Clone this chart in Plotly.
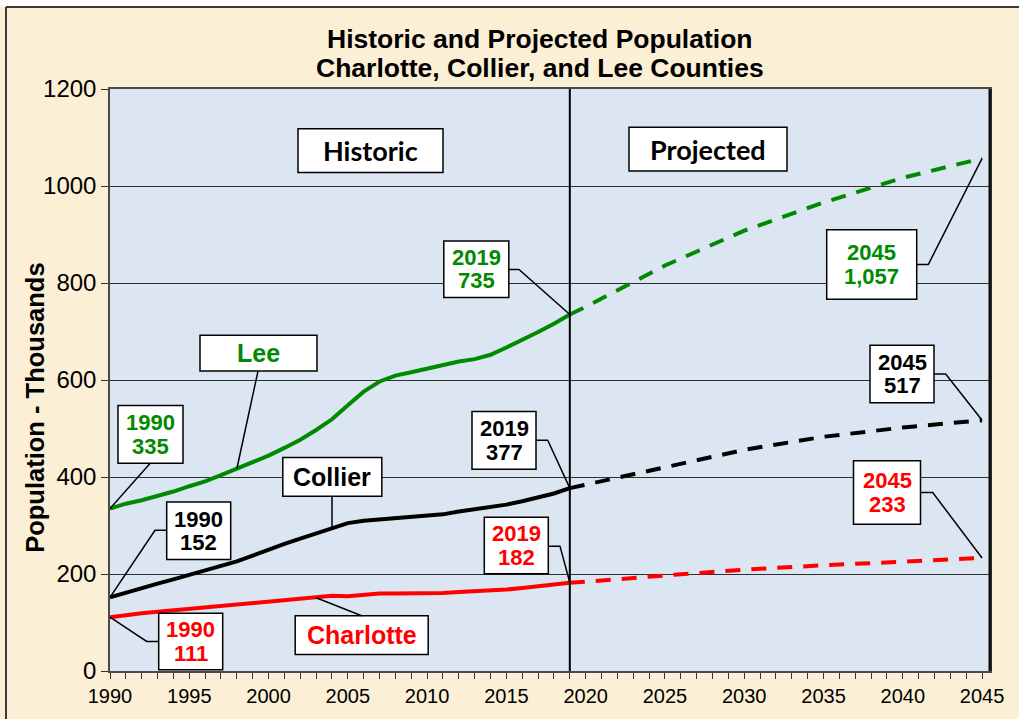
import plotly.graph_objects as go

# ---------------- data ----------------
hist_years = list(range(1990, 2020))
lee_hist = [335, 345, 352, 360, 370, 381, 391, 404, 417, 430,
            444, 460, 477, 497, 519, 548, 576, 597, 609, 616,
            624, 630, 638, 643, 652, 667, 682, 699, 716, 735]
collier_hist = [152, 162, 171, 180, 189, 198, 207, 216, 226, 238,
                251, 262, 273, 284, 295, 305, 310, 313, 315, 318,
                321, 323, 329, 333, 337, 343, 350, 357, 366, 377]
charlotte_hist = [111, 116, 119, 122, 125, 128, 130, 133, 136, 139,
                  142, 145, 148, 151, 155, 154, 157, 160, 160, 160,
                  160, 161, 163, 164, 165, 168, 171, 174, 178, 182]

proj_years = [2019, 2020, 2025, 2030, 2035, 2040, 2045]
lee_proj = [735, 751, 836, 908, 966, 1017, 1057]
collier_proj = [377, 384, 421, 456, 483, 502, 517]
charlotte_proj = [182, 184, 197, 209, 218, 226, 233]

title_lines = ["Historic and Projected Population", "Charlotte, Collier, and Lee Counties"]
y_title = "Population - Thousands"
period_labels = ["Historic", "Projected"]
county_names = ["Lee", "Collier", "Charlotte"]

GREEN = "#008A00"
BLACK = "#000000"
RED = "#FF0000"
ARIAL = "Liberation Sans, Arial, sans-serif"

# ---------------- layout geometry ----------------
W, H = 1019, 719
L, R, T, B = 110, 29, 89, 44
PW, PH = W - L - R, H - T - B
X0, X1 = 1990, 2045.5
Y0, Y1 = 0, 1200
BOT = H - B


def dx(px):
    return X0 + (px - L) / PW * (X1 - X0)


def dy(py):
    return Y0 + (BOT - py) / PH * (Y1 - Y0)


def px_paper(px):
    return (px - L) / PW


def py_paper(py):
    return (BOT - py) / PH


fig = go.Figure()

series = [
    (lee_hist, lee_proj, GREEN),
    (collier_hist, collier_proj, BLACK),
    (charlotte_hist, charlotte_proj, RED),
]
for hist, proj, col in series:
    fig.add_trace(go.Scatter(x=hist_years, y=hist, mode="lines",
                             line=dict(color=col, width=4), showlegend=False,
                             hoverinfo="skip"))
    fig.add_trace(go.Scatter(x=proj_years, y=proj, mode="lines",
                             line=dict(color=col, width=4, dash="15px,11px"),
                             showlegend=False, hoverinfo="skip"))

shapes = []
annotations = []

# background frame pieces (outside plot)
shapes.append(dict(type="rect", xref="paper", yref="paper",
                   x0=px_paper(-5), x1=px_paper(W + 5), y0=py_paper(6), y1=py_paper(-5),
                   fillcolor="white", line=dict(width=0), layer="above"))
shapes.append(dict(type="line", xref="paper", yref="paper",
                   x0=px_paper(6), x1=px_paper(W + 5), y0=py_paper(6.5), y1=py_paper(6.5),
                   line=dict(color="#3a3a3a", width=2)))
shapes.append(dict(type="line", xref="paper", yref="paper",
                   x0=px_paper(6), x1=px_paper(6), y0=py_paper(6.5), y1=py_paper(H + 5),
                   line=dict(color="#3a3a3a", width=2)))

# 2019 divider line
shapes.append(dict(type="line", xref="x", yref="y", x0=2019, x1=2019, y0=Y0, y1=Y1,
                   line=dict(color="black", width=2)))
# right border emphasis
shapes.append(dict(type="line", xref="paper", yref="paper", x0=1, x1=1, y0=0, y1=1,
                   line=dict(color="#111111", width=3)))


def txt(cx, cy, text, color, size, family=ARIAL):
    annotations.append(dict(
        x=dx(cx), y=dy(cy), xref="x", yref="y", showarrow=False,
        xanchor="center", yanchor="middle", text="<b>%s</b>" % text,
        font=dict(color=color, size=size, family=family)))


def box(cx, cy, w, h, lines, color, size, family=ARIAL, pitch=23.5):
    shapes.append(dict(type="rect", xref="x", yref="y",
                       x0=dx(cx - w / 2), x1=dx(cx + w / 2),
                       y0=dy(cy + h / 2), y1=dy(cy - h / 2),
                       fillcolor="white", line=dict(color="black", width=1.5),
                       layer="above"))
    n = len(lines)
    for i, ln in enumerate(lines):
        txt(cx, cy + (i - (n - 1) / 2) * pitch, ln, color, size, family)


def leader(points_px, end_xy):
    pts = [(dx(a), dy(b)) for a, b in points_px] + [end_xy]
    path = "M %f,%f" % pts[0] + "".join(" L %f,%f" % p for p in pts[1:])
    shapes.append(dict(type="path", xref="x", yref="y", path=path,
                       line=dict(color="black", width=1.5)))


def lab(year, value):
    return [str(year), format(value, ",")]


# period boxes
box(370.5, 151, 145, 44, [period_labels[0]], BLACK, 27, "Lato, Open Sans, sans-serif")
box(708, 149.5, 158, 44, [period_labels[1]], BLACK, 27, "Lato, Open Sans, sans-serif")

# county name boxes + leaders
box(258.5, 355, 117, 36, [county_names[0]], GREEN, 25)
leader([(258, 373)], (1998, lee_hist[1998 - 1990]))
box(332.3, 479.5, 99, 39, [county_names[1]], BLACK, 25)
leader([(332, 499)], (2004, collier_hist[2004 - 1990]))
box(361.7, 638.8, 133, 39, [county_names[2]], RED, 25)
leader([(361.7, 619.3)], (2003, charlotte_hist[2003 - 1990]))

# value boxes
NS = 22
box(150.5, 436.7, 65, 58, lab(1990, lee_hist[0]), GREEN, NS)
leader([(150, 466)], (1990, lee_hist[0]))
box(476.3, 270.5, 65, 57, lab(2019, lee_hist[-1]), GREEN, NS)
leader([(508.7, 270.7), (519, 270.7)], (2019, lee_hist[-1]))
box(871.7, 265.8, 90, 70, lab(2045, lee_proj[-1]), GREEN, NS)
leader([(916.7, 265.7), (928.3, 265.7)], (2045, lee_proj[-1]))

box(198.7, 533.8, 64, 58, lab(1990, collier_hist[0]), BLACK, NS)
leader([(166.7, 533.3), (155, 533.3)], (1990, collier_hist[0]))
box(504, 442.8, 64, 58, lab(2019, collier_hist[-1]), BLACK, NS)
leader([(536, 442.7), (547.7, 442.7)], (2019, collier_hist[-1]))
box(902, 376, 64, 58, lab(2045, collier_proj[-1]), BLACK, NS)
leader([(934, 376), (945.7, 376)], (2045, collier_proj[-1]))

box(190.7, 645.3, 64, 57, lab(1990, charlotte_hist[0]), RED, NS)
leader([(158.7, 645.3), (146.7, 645.3)], (1990, charlotte_hist[0]))
box(516.3, 548.7, 64, 57, lab(2019, charlotte_hist[-1]), RED, NS)
leader([(548.3, 549.3), (560, 549.3)], (2019, charlotte_hist[-1]))
box(887, 495.3, 67, 64, lab(2045, charlotte_proj[-1]), RED, NS)
leader([(920.7, 495.3), (932.7, 495.3)], (2045, charlotte_proj[-1]))

# titles
for text, ypx in zip(title_lines, [39, 68]):
    annotations.append(dict(xref="paper", yref="paper", x=px_paper(540), y=py_paper(ypx),
                            text="<b>%s</b>" % text, showarrow=False,
                            xanchor="center", yanchor="middle",
                            font=dict(size=26.5, color="black", family=ARIAL)))
annotations.append(dict(xref="paper", yref="paper", x=px_paper(35), y=py_paper(410),
                        text="<b>%s</b>" % y_title, showarrow=False, textangle=-90,
                        xanchor="center", yanchor="middle",
                        font=dict(size=25.5, color="black", family=ARIAL)))

fig.update_layout(
    width=W, height=H,
    margin=dict(l=L, r=R, t=T, b=B, pad=0),
    paper_bgcolor="#FBEFD5",
    plot_bgcolor="#DCE6F2",
    shapes=shapes,
    annotations=annotations,
    showlegend=False,
    font=dict(family=ARIAL, color="black"),
)
fig.update_xaxes(range=[X0, X1], tickmode="array",
                 tickvals=list(range(1990, 2046, 5)),
                 ticktext=[str(v) for v in range(1990, 2046, 5)],
                 ticks="outside", ticklen=6, tickwidth=1, tickcolor="#333",
                 minor=dict(tickmode="array", tickvals=list(range(1990, 2046)),
                            ticks="outside", ticklen=6, tickcolor="#333", showgrid=False),
                 showgrid=False, zeroline=False, showline=True, linecolor="#4a4a4a",
                 linewidth=1.5, mirror=True, tickfont=dict(size=20, color="black"))
fig.update_yaxes(range=[Y0, Y1], tickvals=list(range(0, 1201, 200)),
                 ticks="outside", ticklen=7, tickcolor="#333",
                 showgrid=True, gridcolor="#2f2f2f", gridwidth=1,
                 zeroline=False, showline=True, linecolor="#4a4a4a", linewidth=1.5,
                 mirror=True, tickfont=dict(size=24, color="black"))

fig.write_html("out.html", config={"displayModeBar": False},
               post_script="document.body.style.margin='0';document.body.style.padding='0';")
